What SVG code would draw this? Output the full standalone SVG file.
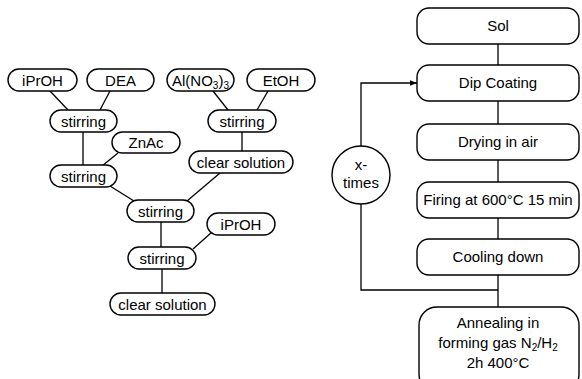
<svg xmlns="http://www.w3.org/2000/svg" width="582" height="379" viewBox="0 0 582 379">
<defs>
<style>
.p{fill:#fff;stroke:#000;stroke-width:1.4}
.t{font-family:"Liberation Sans",Arial,sans-serif;font-size:15px;fill:#000;text-anchor:middle}
.c line,.c path{stroke:#000;stroke-width:1.3;fill:none}
</style>
<marker id="ah" viewBox="0 0 10 10" refX="10" refY="5" markerWidth="7" markerHeight="7" orient="auto" markerUnits="userSpaceOnUse"><path d="M0,1 L10,5 L0,9 z" fill="#000"/></marker>
</defs>
<rect width="582" height="379" fill="#fff"/>
<g class="c" id="connectors">
<line x1="50" y1="91" x2="68" y2="110"/>
<line x1="110" y1="91" x2="100" y2="110"/>
<line x1="213" y1="91" x2="228" y2="110"/>
<line x1="268" y1="91" x2="257" y2="110"/>
<line x1="83" y1="132" x2="83" y2="165"/>
<line x1="118" y1="153" x2="102" y2="166"/>
<line x1="242" y1="132" x2="242" y2="151"/>
<line x1="110" y1="186" x2="134" y2="201"/>
<line x1="220" y1="173" x2="187" y2="201"/>
<line x1="161" y1="222" x2="161" y2="247"/>
<line x1="212" y1="232" x2="193" y2="249"/>
<line x1="162" y1="269" x2="162" y2="293"/>
<line x1="498" y1="44" x2="498" y2="65"/>
<line x1="498" y1="101" x2="498" y2="124"/>
<line x1="498" y1="160" x2="498" y2="182"/>
<line x1="498" y1="218" x2="498" y2="239"/>
<line x1="498" y1="275" x2="498" y2="307"/>
<path d="M498,290 H361 V204"/>
<path d="M361,146 V83 H417" marker-end="url(#ah)"/>
</g>
<g id="n-iproh1"><rect class="p" x="8" y="69" width="69" height="22" rx="11"/><text class="t" x="42.5" y="85.5">iPrOH</text></g>
<g id="n-dea"><rect class="p" x="87" y="69" width="67" height="22" rx="11"/><text class="t" x="120.5" y="85.5">DEA</text></g>
<g id="n-alno3"><rect class="p" x="167" y="69" width="67" height="22" rx="11"/><text class="t" x="200.5" y="85.5">Al(NO<tspan font-size="10" dy="3">3</tspan><tspan dy="-3">)</tspan><tspan font-size="10" dy="3">3</tspan></text></g>
<g id="n-etoh"><rect class="p" x="247" y="69" width="68" height="22" rx="11"/><text class="t" x="281" y="85.5">EtOH</text></g>
<g id="n-stir1"><rect class="p" x="50" y="110" width="67" height="22" rx="11"/><text class="t" x="83.5" y="126.5">stirring</text></g>
<g id="n-stir-r"><rect class="p" x="208" y="110" width="68" height="22" rx="11"/><text class="t" x="242" y="126.5">stirring</text></g>
<g id="n-znac"><rect class="p" x="112" y="132" width="68" height="21" rx="10.5"/><text class="t" x="146" y="148">ZnAc</text></g>
<g id="n-clear-r"><rect class="p" x="189" y="151" width="104" height="22" rx="11"/><text class="t" x="241" y="167.5">clear solution</text></g>
<g id="n-stir2"><rect class="p" x="50" y="165" width="67" height="22" rx="11"/><text class="t" x="83.5" y="181.5">stirring</text></g>
<g id="n-stir-mid"><rect class="p" x="127" y="200" width="67" height="22" rx="11"/><text class="t" x="160.5" y="216.5">stirring</text></g>
<g id="n-iproh2"><rect class="p" x="207" y="213" width="68" height="22" rx="11"/><text class="t" x="241" y="229.5">iPrOH</text></g>
<g id="n-stir-low"><rect class="p" x="128" y="247" width="68" height="22" rx="11"/><text class="t" x="162" y="263.5">stirring</text></g>
<g id="n-clear-b"><rect class="p" x="110" y="293" width="105" height="22" rx="11"/><text class="t" x="162.5" y="309.5">clear solution</text></g>
<g id="n-sol"><rect class="p" x="417" y="8" width="162" height="36" rx="12"/><text class="t" x="498" y="31">Sol</text></g>
<g id="n-dip"><rect class="p" x="417" y="65" width="162" height="36" rx="12"/><text class="t" x="498" y="88">Dip Coating</text></g>
<g id="n-dry"><rect class="p" x="417" y="124" width="162" height="36" rx="12"/><text class="t" x="498" y="147">Drying in air</text></g>
<g id="n-fire"><rect class="p" x="417" y="182" width="162" height="36" rx="12"/><text class="t" x="498" y="205">Firing at 600°C 15 min</text></g>
<g id="n-cool"><rect class="p" x="417" y="239" width="162" height="36" rx="12"/><text class="t" x="498" y="262">Cooling down</text></g>
<g id="n-anneal"><rect class="p" x="419" y="307" width="160" height="85" rx="18"/><text class="t" x="498" y="328">Annealing in</text><text class="t" x="498" y="348">forming gas N<tspan font-size="10" dy="3">2</tspan><tspan dy="-3">/H</tspan><tspan font-size="10" dy="3">2</tspan></text><text class="t" x="498" y="368">2h 400°C</text></g>
<g id="n-xtimes"><circle class="p" cx="361" cy="175" r="29"/><text class="t" x="361" y="170">x-</text><text class="t" x="361" y="188">times</text></g>
</svg>
